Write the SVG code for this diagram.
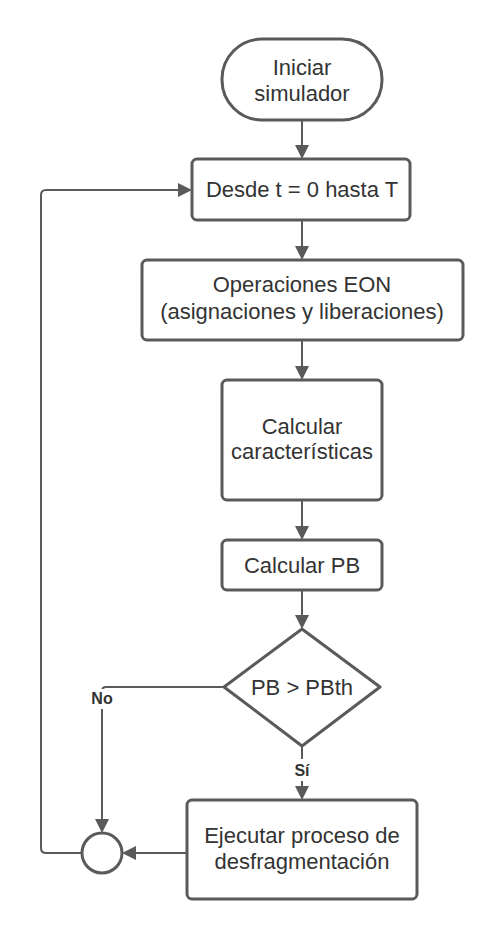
<svg xmlns="http://www.w3.org/2000/svg" width="503" height="940" viewBox="0 0 503 940">
<defs>
<style>
.n{fill:#fff;stroke:#5a5a5a;stroke-width:3}
.t{font-family:"Liberation Sans",Arial,sans-serif;font-size:22px;fill:#333;text-anchor:middle}
.l{font-family:"Liberation Sans",Arial,sans-serif;font-size:16px;font-weight:bold;fill:#333;text-anchor:middle}
.c{fill:none;stroke:#5a5a5a;stroke-width:2}
</style>
<marker id="a" markerWidth="14" markerHeight="14" refX="12" refY="7" orient="auto" markerUnits="userSpaceOnUse">
<path d="M0,0 L14,7 L0,14 Z" fill="#5a5a5a"/>
</marker>
</defs>
<rect width="503" height="940" fill="#fff"/>
<g id="connectors">
<path class="c" d="M302,121 V157" marker-end="url(#a)"/>
<path class="c" d="M302,221 V258" marker-end="url(#a)"/>
<path class="c" d="M302,341 V378" marker-end="url(#a)"/>
<path class="c" d="M302,501 V538" marker-end="url(#a)"/>
<path class="c" d="M302,591 V627" marker-end="url(#a)"/>
<path class="c" d="M302,747 V798" marker-end="url(#a)"/>
<path class="c" d="M224,687 H106 Q102,687 102,691 V831" marker-end="url(#a)"/>
<path class="c" d="M187,853 H124" marker-end="url(#a)"/>
<path class="c" d="M82,853 H46 Q41,853 41,848 V195 Q41,190 46,190 H190" marker-end="url(#a)"/>
<rect x="86" y="689" width="32" height="20" fill="#fff"/>
<text class="l" x="102" y="704">No</text>
<rect x="290" y="759" width="24" height="22" fill="#fff"/>
<text class="l" x="302" y="776">Sí</text>
</g>
<g id="inicio">
<rect class="n" x="222" y="39" width="160" height="81" rx="40" ry="40"/>
<text class="t" x="302" y="75">Iniciar</text>
<text class="t" x="302" y="101">simulador</text>
</g>
<g id="desde">
<rect class="n" x="192" y="159" width="218" height="61" rx="5"/>
<text class="t" x="302" y="197">Desde t = 0 hasta T</text>
</g>
<g id="operaciones">
<rect class="n" x="142" y="260" width="321" height="80" rx="5"/>
<text class="t" x="302" y="292">Operaciones EON</text>
<text class="t" x="302" y="319">(asignaciones y liberaciones)</text>
</g>
<g id="caracteristicas">
<rect class="n" x="222" y="380" width="160" height="120" rx="5"/>
<text class="t" x="302" y="434">Calcular</text>
<text class="t" x="302" y="459">características</text>
</g>
<g id="calcularpb">
<rect class="n" x="222" y="540" width="160" height="50" rx="5"/>
<text class="t" x="302" y="573">Calcular PB</text>
</g>
<g id="decision">
<path class="n" d="M302,629 L380,687 L302,746 L224,687 Z" stroke-linejoin="round"/>
<text class="t" x="302" y="695">PB &gt; PBth</text>
</g>
<g id="ejecutar">
<rect class="n" x="187" y="800" width="230" height="99" rx="5"/>
<text class="t" x="302" y="843">Ejecutar proceso de</text>
<text class="t" x="302" y="869">desfragmentación</text>
</g>
<g id="union">
<circle class="n" cx="102" cy="853" r="20"/>
</g>
</svg>
